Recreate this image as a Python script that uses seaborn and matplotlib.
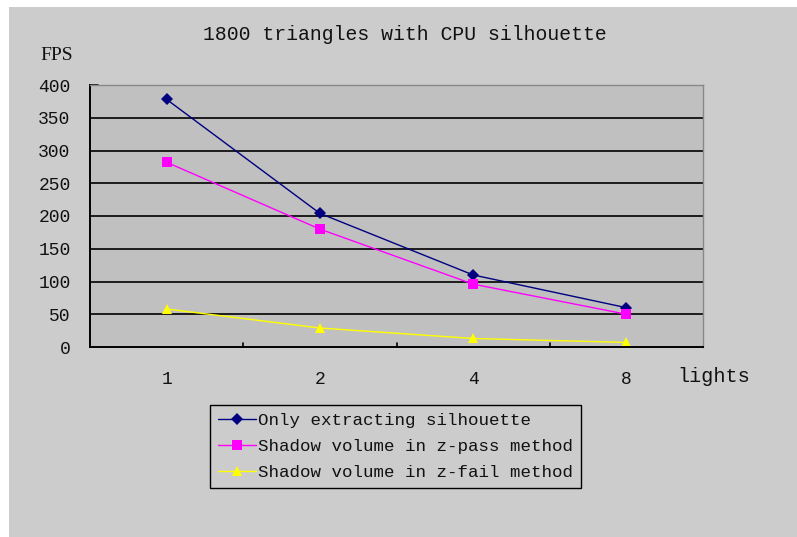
import matplotlib
matplotlib.use("Agg")
import matplotlib.pyplot as plt
from matplotlib.patches import Rectangle
import numpy as np
import pandas as pd
import seaborn as sns

# Frame-rate measurements per number of lights
lights = ["1", "2", "4", "8"]
only_extracting = [378, 204, 110, 60]
zpass = [282, 180, 96, 50]
zfail = [58, 29, 13, 7]

series_names = [
    "Only extracting silhouette",
    "Shadow volume in z-pass method",
    "Shadow volume in z-fail method",
]
series_values = [only_extracting, zpass, zfail]
series_colors = ["#000080", "#FF00FF", "#FFFF00"]
series_markers = ["D", "s", "^"]

y_ticks = [0, 50, 100, 150, 200, 250, 300, 350, 400]

rows = []
for name, vals in zip(series_names, series_values):
    for i, v in enumerate(vals):
        rows.append({"pos": i, "fps": v, "series": name})
df = pd.DataFrame(rows)

sns.set_theme(style="white")
plt.rcParams["font.family"] = ["Liberation Mono", "DejaVu Sans"]

W, H = 797, 537
fig = plt.figure(figsize=(W / 100, H / 100), dpi=100, facecolor="white")
fig.patches.append(Rectangle((9 / W, 0), 1 - 9 / W, 1 - 7 / H,
                             transform=fig.transFigure, facecolor="#cccccc",
                             edgecolor="none", zorder=-10))

ax = fig.add_axes([90 / W, 1 - 347 / H, (703 - 90) / W, (347 - 85) / H])
ax.set_facecolor("#c0c0c0")

sns.lineplot(data=df, x="pos", y="fps", hue="series", style="series",
             hue_order=series_names, style_order=series_names,
             palette=dict(zip(series_names, series_colors)),
             markers=dict(zip(series_names, series_markers)),
             dashes=False, sort=False, linewidth=1.0, markersize=6.5,
             markeredgewidth=0, ax=ax, legend=True)

ax.set_xlim(-0.5, len(lights) - 0.5)
ax.set_ylim(0, 400)
ax.set_yticks(y_ticks)
ax.set_yticklabels([str(t) for t in y_ticks], fontsize=13, color="#111111")
ax.set_xticks(range(len(lights)))
ax.set_xticklabels(lights, fontsize=13, color="#111111")
ax.tick_params(axis="x", length=0, pad=17)
ax.tick_params(axis="y", length=0, pad=14)

# Category boundary tick marks on the x axis
for b in np.arange(0.5, len(lights) - 0.5, 1.0):
    ax.plot([b, b], [0, 6], color="black", lw=1.2, zorder=5, clip_on=False)

for t in y_ticks[1:-1]:
    ax.axhline(t, color="black", lw=1.2, zorder=1)
ax.plot([-0.5, -0.45], [400, 400], color="black", lw=1.2, clip_on=False)

for side in ["left", "bottom"]:
    ax.spines[side].set_color("black")
    ax.spines[side].set_linewidth(1.4)
for side in ["top", "right"]:
    ax.spines[side].set_color("#888888")
    ax.spines[side].set_linewidth(1.0)

ax.set_xlabel("")
ax.set_ylabel("")

fig.text(405 / W, 1 - 35 / H, "1800 triangles with CPU silhouette",
         ha="center", va="center", fontsize=14.2, color="#111111")
fig.text(57 / W, 1 - 55 / H, "FPS", ha="center", va="center",
         fontsize=14, color="#111111", family=["Liberation Serif"])
fig.text(714 / W, 1 - 377 / H, "lights", ha="center", va="center",
         fontsize=14.5, color="#111111")

handles, labels = ax.get_legend_handles_labels()
ax.legend_.remove()
leg = fig.legend(handles, labels, loc="upper left",
                 bbox_to_anchor=(210 / W, 1 - 405 / H),
                 bbox_transform=fig.transFigure,
                 fontsize=12.6, frameon=True, fancybox=False,
                 edgecolor="black", facecolor="#cccccc", framealpha=1,
                 handlelength=2.2, handletextpad=0.1, labelspacing=0.62,
                 borderpad=0.45, borderaxespad=0)
leg.get_frame().set_linewidth(1.0)
for t in leg.get_texts():
    t.set_color("#111111")

fig.savefig("out.png", dpi=100, facecolor=fig.get_facecolor())
